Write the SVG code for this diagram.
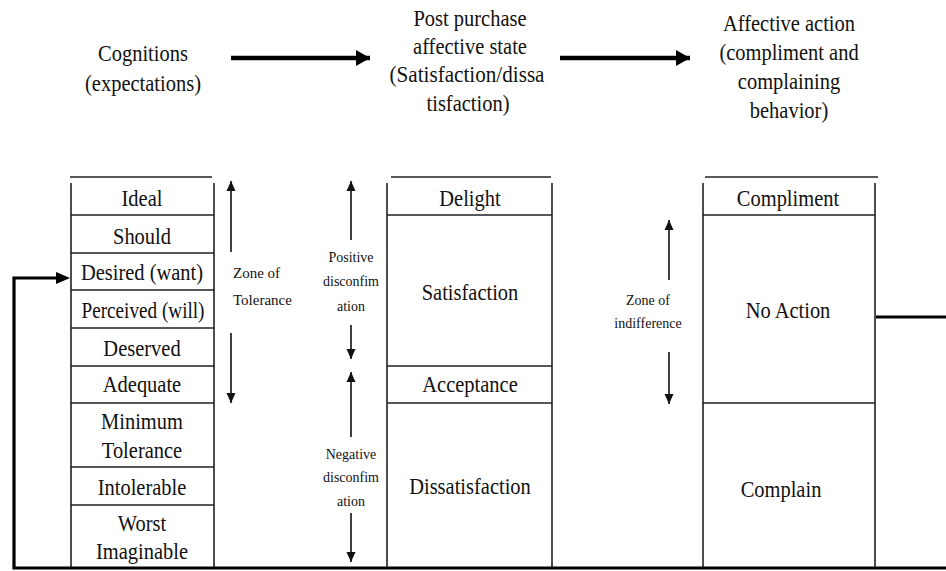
<svg xmlns="http://www.w3.org/2000/svg" width="946" height="571" viewBox="0 0 946 571" font-family="'Liberation Serif', 'DejaVu Serif', serif">
<style>
text{font-family:'Liberation Serif','DejaVu Serif',serif}
.t{fill:#111;text-anchor:middle}
.b{font-size:23px}
.s{font-size:14px}
.box{fill:none;stroke:#222;stroke-width:1.6}
.thin{stroke:#111;stroke-width:1.6;fill:none}
.thick{stroke:#000;stroke-width:3.2;fill:none}
</style>
<defs>
<marker id="ah" markerUnits="userSpaceOnUse" markerWidth="10" markerHeight="12" refX="10" refY="5" orient="auto"><path d="M0,0.5 L10,5 L0,9.5 z" fill="#111"/></marker>
<marker id="AH" markerUnits="userSpaceOnUse" markerWidth="14" markerHeight="16" refX="14" refY="8" orient="auto"><path d="M0,0 L14,8 L0,16 z" fill="#000"/></marker>
</defs>
<rect width="946" height="571" fill="#fff"/>

<g id="hdr-cognitions">
<text class="t b" transform="translate(143 61) scale(.89 1)">Cognitions</text>
<text class="t b" transform="translate(143 91) scale(.89 1)">(expectations)</text>
</g>
<g id="hdr-state">
<text class="t b" transform="translate(470 26) scale(.89 1)">Post purchase</text>
<text class="t b" transform="translate(470 54) scale(.89 1)">affective state</text>
<text class="t b" transform="translate(467 82) scale(.92 1)">(Satisfaction/dissa</text>
<text class="t b" transform="translate(468 111) scale(.89 1)">tisfaction)</text>
</g>
<g id="hdr-action">
<text class="t b" transform="translate(789 31) scale(.89 1)">Affective action</text>
<text class="t b" transform="translate(789 60) scale(.89 1)">(compliment and</text>
<text class="t b" transform="translate(789 89) scale(.89 1)">complaining</text>
<text class="t b" transform="translate(789 118) scale(.89 1)">behavior)</text>
</g>

<g id="col-expectations">
<line class="box" x1="70" y1="177" x2="212" y2="177"/>
<path class="box" d="M71,183 V568 M214,183 V568 M71,215 H214 M71,253 H214 M71,290 H214 M71,328 H214 M71,366 H214 M71,403 H214 M71,467 H214 M71,505 H214"/>
<text class="t b" transform="translate(142 206) scale(.89 1)">Ideal</text>
<text class="t b" transform="translate(142 244) scale(.89 1)">Should</text>
<text class="t b" transform="translate(142 280) scale(.89 1)">Desired (want)</text>
<text class="t b" x="143" y="318" textLength="123" lengthAdjust="spacingAndGlyphs">Perceived (will)</text>
<text class="t b" transform="translate(142 356) scale(.89 1)">Deserved</text>
<text class="t b" transform="translate(142 392) scale(.89 1)">Adequate</text>
<text class="t b" transform="translate(142 429) scale(.89 1)">Minimum</text>
<text class="t b" transform="translate(142 458) scale(.89 1)">Tolerance</text>
<text class="t b" transform="translate(142 495) scale(.89 1)">Intolerable</text>
<text class="t b" transform="translate(142 531) scale(.89 1)">Worst</text>
<text class="t b" transform="translate(142 559) scale(.89 1)">Imaginable</text>
</g>

<g id="zone-tolerance">
<text class="t" style="font-size:15px;text-anchor:start" x="233" y="278">Zone of</text>
<text class="t" style="font-size:15px;text-anchor:start" x="233" y="305">Tolerance</text>
</g>

<g id="disconfirmation-pos">
<text class="t" style="font-size:14px" x="351" y="262">Positive</text>
<text class="t" style="font-size:14px" x="351" y="286">disconfim</text>
<text class="t" style="font-size:14px" x="351" y="311">ation</text>
</g>
<g id="disconfirmation-neg">
<text class="t" style="font-size:14px" x="351" y="459">Negative</text>
<text class="t" style="font-size:14px" x="351" y="482">disconfim</text>
<text class="t" style="font-size:14px" x="351" y="506">ation</text>
</g>

<g id="col-state">
<line class="box" x1="391" y1="177" x2="551" y2="177"/>
<path class="box" d="M387,183 V568 M552,183 V568 M387,215 H552 M387,366 H552 M387,403 H552"/>
<text class="t b" transform="translate(470 206) scale(.89 1)">Delight</text>
<text class="t b" transform="translate(470 300) scale(.89 1)">Satisfaction</text>
<text class="t b" transform="translate(470 392) scale(.89 1)">Acceptance</text>
<text class="t b" transform="translate(470 494) scale(.89 1)">Dissatisfaction</text>
</g>

<g id="zone-indifference">
<text class="t s" x="648" y="305">Zone of</text>
<text class="t s" x="648" y="328">indifference</text>
</g>

<g id="col-action">
<line class="box" x1="705" y1="177" x2="878" y2="177"/>
<path class="box" d="M703,183 V568 M875,183 V568 M703,215 H875 M703,403 H875"/>
<text class="t b" transform="translate(788 206) scale(.89 1)">Compliment</text>
<text class="t b" transform="translate(788 318) scale(.89 1)">No Action</text>
<text class="t b" transform="translate(781 497) scale(.89 1)">Complain</text>
</g>

<g id="connectors">
<line class="thick" x1="231" y1="58" x2="370" y2="58" marker-end="url(#AH)" style="stroke-width:4.5"/>
<line class="thick" x1="560" y1="58" x2="690" y2="58" marker-end="url(#AH)" style="stroke-width:4.5"/>
<line class="thin" x1="231" y1="252" x2="231" y2="181" marker-end="url(#ah)"/>
<line class="thin" x1="231" y1="333" x2="231" y2="403" marker-end="url(#ah)"/>
<line class="thin" x1="351" y1="240" x2="351" y2="181" marker-end="url(#ah)"/>
<line class="thin" x1="351" y1="325" x2="351" y2="359" marker-end="url(#ah)"/>
<line class="thin" x1="351" y1="437" x2="351" y2="372" marker-end="url(#ah)"/>
<line class="thin" x1="351" y1="513" x2="351" y2="562" marker-end="url(#ah)"/>
<line class="thin" x1="669" y1="280" x2="669" y2="220" marker-end="url(#ah)"/>
<line class="thin" x1="669" y1="352" x2="669" y2="404" marker-end="url(#ah)"/>
<path class="thick" d="M876,317 H946"/>
<path class="thick" d="M946,568 H14 V278 H57" />
<path d="M56,272 L70,278 L56,284 z" fill="#000"/>
</g>
</svg>
